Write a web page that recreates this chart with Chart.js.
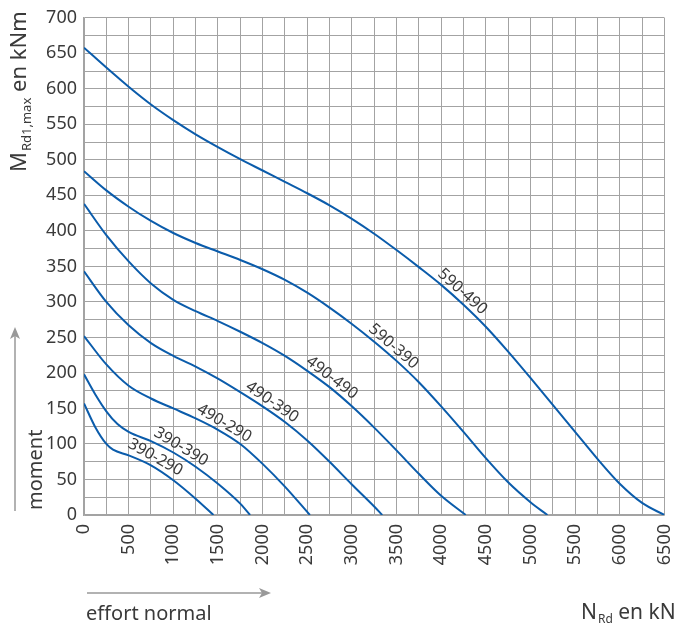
<!DOCTYPE html>
<html>
<head>
<meta charset="utf-8">
<script src="https://cdn.jsdelivr.net/npm/chart.js@4"></script>
<style>
  body { margin: 0; background: #ffffff; }
  #chart { display: block; }
</style>
</head>
<body>
<canvas id="chart" width="695" height="628"></canvas>
<script>
// interaction curves, N_Rd (kN) against M_Rd1,max (kNm)
var n_590_490 = [0, 250, 500, 750, 1000, 1250, 1500, 1750, 2000, 2250, 2500, 2750, 3000, 3250, 3500, 3750, 4000, 4250, 4500, 4750, 5000, 5250, 5500, 5750, 6000, 6250, 6500]
var m_590_490 = [658, 630, 603, 578, 556, 536, 518, 501, 485, 469, 453, 436, 417, 396, 373, 349, 324, 296, 265, 230, 193, 155, 117, 79, 44, 17, 0]

var n_590_390 = [0, 250, 500, 750, 1000, 1250, 1500, 1750, 2000, 2250, 2500, 2750, 3000, 3250, 3500, 3750, 4000, 4250, 4500, 4750, 5000, 5190]
var m_590_390 = [484, 457, 434, 414, 397, 383, 371, 359, 346, 331, 313, 292, 269, 244, 217, 187, 153, 117, 80, 46, 18, 0]

var n_490_490 = [0, 250, 500, 750, 1000, 1250, 1500, 1750, 2000, 2250, 2500, 2750, 3000, 3250, 3500, 3750, 4000, 4275]
var m_490_490 = [438, 394, 357, 326, 303, 287, 273, 258, 242, 224, 203, 180, 153, 123, 91, 58, 27, 0]

var n_490_390 = [0, 250, 500, 750, 1000, 1250, 1500, 1750, 2000, 2250, 2500, 2750, 3000, 3250, 3340]
var m_490_390 = [343, 300, 267, 242, 224, 209, 192, 173, 153, 131, 105, 75, 43, 12, 0]

var n_490_290 = [0, 250, 500, 750, 1000, 1250, 1500, 1750, 2000, 2250, 2530]
var m_490_290 = [252, 212, 182, 164, 150, 136, 120, 100, 72, 40, 0]

var n_390_390 = [0, 125, 250, 375, 500, 750, 1000, 1250, 1500, 1750, 1860]
var m_390_390 = [198, 170, 146, 128, 117, 104, 88, 68, 44, 16, 0]

var n_390_290 = [0, 125, 250, 325, 500, 750, 1000, 1250, 1450]
var m_390_290 = [157, 124, 100, 92, 84, 70, 49, 23, 0]

var curve_names = ["590-490", "590-390", "490-490", "490-390", "490-290", "390-390", "390-290"]
var curve_n = [n_590_490, n_590_390, n_490_490, n_490_390, n_490_290, n_390_390, n_390_290]
var curve_m = [m_590_490, m_590_390, m_490_490, m_490_390, m_490_290, m_390_390, m_390_290]
// where along each curve (kN) its name is written
var label_at = [4170, 3400, 2715, 2050, 1520, 1035, 750]

var x_ticks = [0, 500, 1000, 1500, 2000, 2500, 3000, 3500, 4000, 4500, 5000, 5500, 6000, 6500]
var y_ticks = [0, 50, 100, 150, 200, 250, 300, 350, 400, 450, 500, 550, 600, 650, 700]

const FONT = "'Noto Sans', sans-serif"
const TEXT = "#3a3a3a"
const GRID = "#a3a3a3"
const LINE = "#0b5cab"

function toPoints(xs, ys) {
    var pts = []
    for (var i = 0; i < xs.length; i++) pts.push({x: xs[i], y: ys[i]})
    return pts
}

function interp(xs, ys, x) {
    for (var i = 0; i < xs.length - 1; i++) {
        if (x >= xs[i] && x <= xs[i + 1]) {
            var t = (x - xs[i]) / (xs[i + 1] - xs[i])
            return ys[i] + t * (ys[i + 1] - ys[i])
        }
    }
    return ys[ys.length - 1]
}

var datasets = []
for (var i = 0; i < curve_names.length; i++) {
    datasets.push({
        label: curve_names[i],
        data: toPoints(curve_n[i], curve_m[i]),
        borderColor: LINE,
        borderWidth: 2,
        pointRadius: 0,
        fill: false,
        cubicInterpolationMode: "monotone"
    })
}

// names written along the curves, sitting just above the line
const curveLabels = {
    id: "curveLabels",
    afterDatasetsDraw(chart) {
        const ctx = chart.ctx
        const xs = chart.scales.x, ys = chart.scales.y
        ctx.save()
        ctx.font = "16px " + FONT
        ctx.fillStyle = TEXT
        ctx.textAlign = "center"
        ctx.textBaseline = "middle"
        for (var i = 0; i < curve_names.length; i++) {
            var n = label_at[i]
            var px = xs.getPixelForValue(n)
            var py = ys.getPixelForValue(interp(curve_n[i], curve_m[i], n))
            var x1 = xs.getPixelForValue(n - 80), y1 = ys.getPixelForValue(interp(curve_n[i], curve_m[i], n - 80))
            var x2 = xs.getPixelForValue(n + 80), y2 = ys.getPixelForValue(interp(curve_n[i], curve_m[i], n + 80))
            var a = Math.atan2(y2 - y1, x2 - x1)
            var off = 9
            ctx.save()
            ctx.translate(px + off * Math.sin(a), py - off * Math.cos(a))
            ctx.rotate(a)
            ctx.fillText(curve_names[i], 0, 0)
            ctx.restore()
        }
        ctx.restore()
    }
}

function arrowHead(ctx, x, y, dir) {
    // dir: "up" or "right"
    ctx.beginPath()
    if (dir == "up") {
        ctx.moveTo(x, y)
        ctx.lineTo(x - 5, y + 12)
        ctx.lineTo(x, y + 9)
        ctx.lineTo(x + 5, y + 12)
    } else {
        ctx.moveTo(x, y)
        ctx.lineTo(x - 12, y - 5)
        ctx.lineTo(x - 9, y)
        ctx.lineTo(x - 12, y + 5)
    }
    ctx.closePath()
    ctx.fill()
}

// axis titles with subscripts, and the direction arrows
const axisTitles = {
    id: "axisTitles",
    afterDraw(chart) {
        const ctx = chart.ctx
        ctx.save()
        ctx.fillStyle = TEXT
        ctx.textBaseline = "alphabetic"
        ctx.textAlign = "left"

        // y title, rotated
        ctx.save()
        ctx.translate(26, 172)
        ctx.rotate(-Math.PI / 2)
        ctx.font = "22px " + FONT
        ctx.fillText("M", 0, 0)
        var w = ctx.measureText("M").width
        ctx.font = "13px " + FONT
        ctx.fillText("Rd1,max", w + 1, 5)
        w += 1 + ctx.measureText("Rd1,max").width
        ctx.font = "22px " + FONT
        ctx.fillText(" en kNm", w, 0)
        ctx.restore()

        // "moment"
        ctx.save()
        ctx.translate(42, 510)
        ctx.rotate(-Math.PI / 2)
        ctx.font = "20px " + FONT
        ctx.fillText("moment", 0, 0)
        ctx.restore()

        // x title
        ctx.font = "21px " + FONT
        ctx.fillText("N", 581, 619)
        var wx = ctx.measureText("N").width
        ctx.font = "12px " + FONT
        ctx.fillText("Rd", 581 + wx + 1, 623)
        wx += 1 + ctx.measureText("Rd").width
        ctx.font = "21px " + FONT
        ctx.fillText(" en kN", 581 + wx, 619)

        ctx.font = "20px " + FONT
        ctx.fillText("effort normal", 86, 620)

        // arrows
        ctx.strokeStyle = "#999999"
        ctx.fillStyle = "#999999"
        ctx.lineWidth = 1.5
        ctx.beginPath()
        ctx.moveTo(15, 511)
        ctx.lineTo(15, 335)
        ctx.stroke()
        arrowHead(ctx, 15, 327, "up")
        ctx.beginPath()
        ctx.moveTo(87, 593)
        ctx.lineTo(262, 593)
        ctx.stroke()
        arrowHead(ctx, 271, 593, "right")
        ctx.restore()
    }
}

new Chart(document.getElementById("chart"), {
    type: "line",
    data: {datasets: datasets},
    options: {
        responsive: false,
        animation: false,
        layout: {padding: {top: 16, right: 28, left: 0, bottom: 0}},
        plugins: {
            legend: {display: false},
            tooltip: {enabled: false},
            title: {display: false}
        },
        scales: {
            x: {
                type: "linear",
                min: 0,
                max: 6500,
                border: {color: GRID, width: 1.5},
                grid: {color: GRID, lineWidth: 1, drawTicks: false},
                ticks: {
                    stepSize: 250,
                    autoSkip: false,
                    minRotation: 90,
                    maxRotation: 90,
                    padding: 9,
                    color: TEXT,
                    font: {family: FONT, size: 18},
                    callback: function (v) { return x_ticks.indexOf(v) >= 0 ? String(v) : "" }
                },
                afterFit: function (scale) { scale.height = 113 }
            },
            y: {
                type: "linear",
                min: 0,
                max: 700,
                border: {color: GRID, width: 1.5},
                grid: {color: GRID, lineWidth: 1, drawTicks: false},
                ticks: {
                    stepSize: 25,
                    autoSkip: false,
                    padding: 7,
                    color: TEXT,
                    font: {family: FONT, size: 18},
                    callback: function (v) { return y_ticks.indexOf(v) >= 0 ? String(v) : "" }
                },
                afterFit: function (scale) { scale.width = 84 }
            }
        }
    },
    plugins: [curveLabels, axisTitles]
})
</script>
</body>
</html>
